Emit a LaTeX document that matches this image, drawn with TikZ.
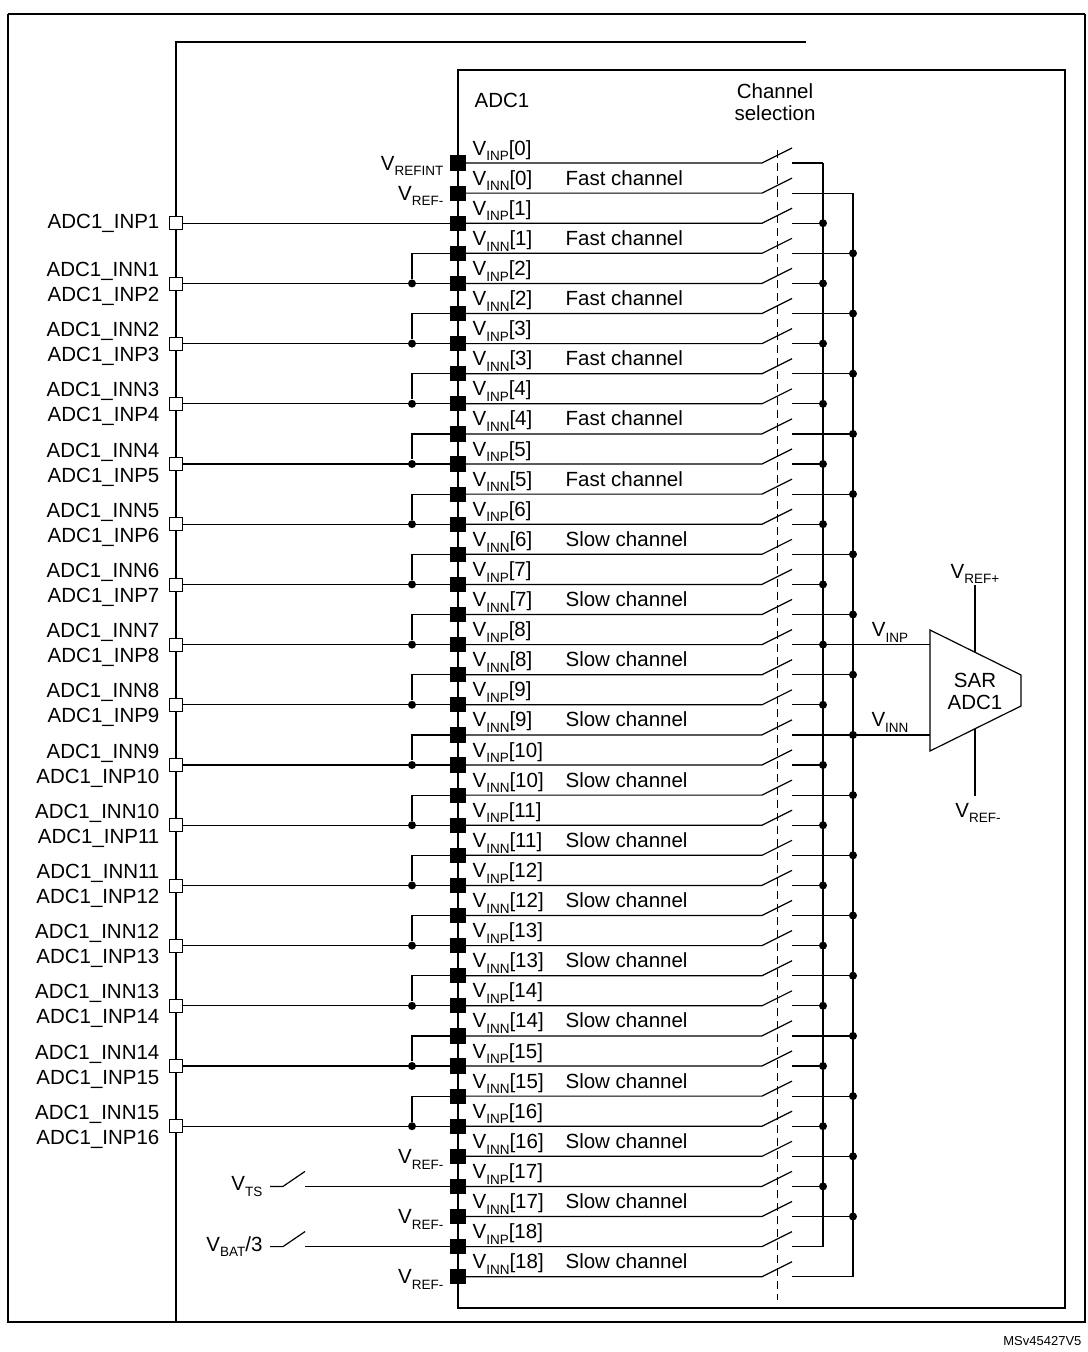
\documentclass[tikz,border=0pt]{standalone}
\usepackage{fontspec}
\setmainfont{Liberation Sans}
\newcommand\sbs[1]{\raisebox{-0.28em}{\fontsize{13.5}{14}\selectfont #1}}
\begin{document}
\begin{tikzpicture}[x=1pt,y=-1pt,font=\fontsize{20.5}{22}\selectfont,line width=1.2pt,
 pad/.style={draw,fill=black,minimum size=14pt,inner sep=0pt},
 pinbox/.style={draw,fill=white,minimum size=13pt,inner sep=0pt,line width=0.8pt},
 jdot/.style={circle,fill,inner sep=0pt,minimum size=8pt},
 lbl/.style={inner sep=0pt}]
\useasboundingbox (0,0) rectangle (1087,1352);
\draw (8,14) -- (8,1322) -- (1085,1322) -- (1085,14);
\draw (8,14) -- (1085,14);
\draw (806,42) -- (176,42) -- (176,1322);
\draw[line width=1.6pt] (458,70) rectangle (1065,1308);
\node[lbl,anchor=west] (adc) at (474,100) {ADC1};
\node[lbl,align=center] (chs) at (775,102) {Channel\\selection};
\draw[dash pattern=on 8pt off 5pt,line width=0.9pt] (777,150) -- (777,1300);
% buses
\draw (823,163) -- (823,{163+30.1*36});
\draw (853,{163+30.1}) -- (853,{163+30.1*37});
\foreach \r in {0,...,37}{
  \pgfmathsetmacro\y{163+30.1*\r}
  \pgfmathtruncatemacro\i{floor(\r/2)}
  \node[pad] (p\r) at (458,\y) {};
  \coordinate (s\r) at (762,\y);
  \coordinate (t\r) at (792,\y);
  \draw (p\r.east) -- (s\r) -- ++(30,-15);
  \ifodd\r
    \coordinate (b\r) at (853,\y);
    \node[lbl,anchor=base west] (l\r) at (472,\y-8) {V\sbs{INN}[\i]};
    \ifnum\i<6
      \node[lbl,anchor=base west] (c\r) at (565,\y-8) {Fast channel};
    \else
      \node[lbl,anchor=base west] (c\r) at (565,\y-8) {Slow channel};
    \fi
  \else
    \coordinate (b\r) at (823,\y);
    \node[lbl,anchor=base west] (l\r) at (472,\y-8) {V\sbs{INP}[\i]};
  \fi
  \draw (t\r) -- (b\r);
}
\foreach \r in {2,4,...,34}{\node[jdot] at (b\r) {};}
\foreach \r in {3,5,...,35}{\node[jdot] at (b\r) {};}
% left reference labels
\node[lbl,anchor=base east] (vri) at (444,{163+7}) {V\sbs{REFINT}};
\foreach \r in {1,33,35,37}{
  \node[lbl,anchor=base east] (vr\r) at (444,{163+30.1*\r+7}) {V\sbs{REF-}};
}
% pins
\node[pinbox] (pin1) at (176,{163+30.1*2}) {};
\node[lbl,anchor=east] at (160,{163+30.1*2}) {ADC1\_INP1};
\draw (pin1.east) -- (p2.west);
\foreach \k in {1,...,15}{
  \pgfmathtruncatemacro\ra{2*\k+2}
  \pgfmathtruncatemacro\rb{2*\k+1}
  \pgfmathtruncatemacro\kn{\k+1}
  \pgfmathsetmacro\y{163+30.1*\ra}
  \node[pinbox] (q\k) at (176,\y) {};
  \node[jdot] (d\k) at (412,\y) {};
  \draw (q\k.east) -- (p\ra.west);
  \draw (d\k) |- (p\rb.west);
  \node[lbl,anchor=base east] at (160,\y-7) {ADC1\_INN\k};
  \node[lbl,anchor=base east] at (160,\y+18) {ADC1\_INP\kn};
}
% VTS and VBAT
\foreach \r/\t in {34/{V\sbs{TS}},36/{V\sbs{BAT}/3}}{
  \pgfmathsetmacro\y{163+30.1*\r}
  \node[lbl,anchor=east] (x\r) at (263,\y) {\t};
  \coordinate (xa\r) at (283,\y);
  \coordinate (xb\r) at (305,\y);
  \draw (x\r.east) ++(7,0) -- (xa\r) -- ++(22,-15);
  \draw (xb\r) -- (p\r.west);
}
% SAR ADC
\coordinate (tA) at (930,630);
\coordinate (tB) at (1021,675);
\coordinate (tC) at (1021,706);
\coordinate (tD) at (930,751);
\draw (tA) -- (tB) -- (tC) -- (tD) -- cycle;
\node[lbl,align=center] (sar) at (975,691) {SAR\\ADC1};
\draw (823,{163+30.1*16}) -- (930,{163+30.1*16});
\draw (853,{163+30.1*19}) -- (930,{163+30.1*19});
\node[lbl,anchor=base] at (890,{163+30.1*16-8}) {V\sbs{INP}};
\node[lbl,anchor=base] at (890,{163+30.1*19-8}) {V\sbs{INN}};
\draw (975,585) -- (975,652);
\draw (975,729) -- (975,796);
\node[lbl,anchor=base] at (975,578) {V\sbs{REF+}};
\node[lbl,anchor=base] at (978,817) {V\sbs{REF-}};
\node[lbl,anchor=base east,font=\fontsize{13}{14}\selectfont] at (1082,1345) {MSv45427V5};
\end{tikzpicture}
\end{document}
